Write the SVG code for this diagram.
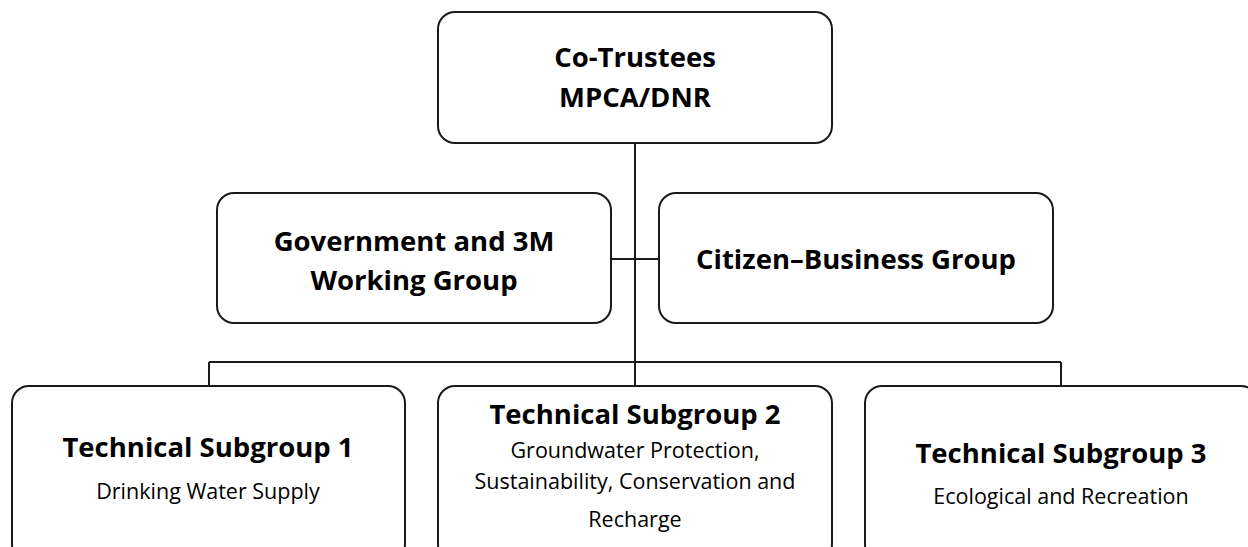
<svg xmlns="http://www.w3.org/2000/svg" width="1248" height="547" viewBox="0 0 1248 547">
<style>
.box{fill:#fff;stroke:#1a1a1a;stroke-width:2}
.ln{stroke:#1a1a1a;stroke-width:2;fill:none}
.t{font-family:"Open Sans","Noto Sans","Liberation Sans",sans-serif;font-weight:bold;font-size:27.5px;fill:#000;text-anchor:middle}
.s{font-family:"Open Sans","Noto Sans","Liberation Sans",sans-serif;font-size:21.5px;fill:#000;text-anchor:middle}
</style>
<rect width="1248" height="547" fill="#fff"/>
<g id="connectors">
<line class="ln" x1="635" y1="143" x2="635" y2="386"/>
<line class="ln" x1="611" y1="259" x2="659" y2="259"/>
<line class="ln" x1="209" y1="362" x2="1061" y2="362"/>
<line class="ln" x1="209" y1="362" x2="209" y2="386"/>
<line class="ln" x1="1061" y1="362" x2="1061" y2="386"/>
</g>
<g id="co-trustees">
<rect class="box" x="438" y="12" width="394" height="131" rx="17"/>
<text class="t" x="635" y="67">Co-Trustees</text>
<text class="t" x="635" y="107">MPCA/DNR</text>
</g>
<g id="gov-3m">
<rect class="box" x="217" y="193" width="394" height="130" rx="17"/>
<text class="t" x="414" y="251">Government and 3M</text>
<text class="t" x="414" y="290">Working Group</text>
</g>
<g id="citizen-business">
<rect class="box" x="659" y="193" width="394" height="130" rx="17"/>
<text class="t" x="856" y="269">Citizen–Business Group</text>
</g>
<g id="tsg1">
<rect class="box" x="12" y="386" width="393" height="175" rx="17"/>
<text class="t" x="208" y="457">Technical Subgroup 1</text>
<text class="s" x="208" y="499">Drinking Water Supply</text>
</g>
<g id="tsg2">
<rect class="box" x="438" y="386" width="394" height="175" rx="17"/>
<text class="t" x="635" y="424">Technical Subgroup 2</text>
<text class="s" x="635" y="458">Groundwater Protection,</text>
<text class="s" x="635" y="489">Sustainability, Conservation and</text>
<text class="s" x="635" y="527">Recharge</text>
</g>
<g id="tsg3">
<rect class="box" x="865" y="386" width="393" height="175" rx="17"/>
<text class="t" x="1061" y="463">Technical Subgroup 3</text>
<text class="s" x="1061" y="504">Ecological and Recreation</text>
</g>
</svg>
